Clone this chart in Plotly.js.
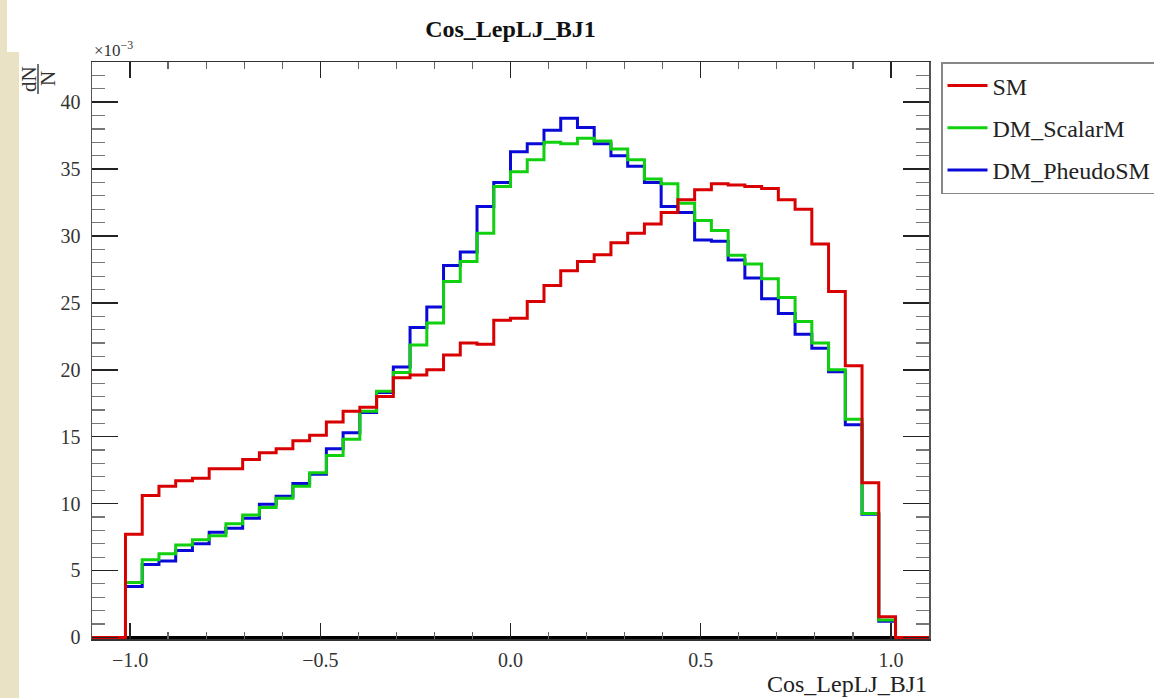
<!DOCTYPE html>
<html>
<head>
<meta charset="utf-8">
<script src="https://cdn.plot.ly/plotly-3.0.1.min.js"></script>
<style>
  html, body { margin: 0; padding: 0; background: #ffffff; }
  #wrap { position: relative; width: 1154px; height: 698px; overflow: hidden; }
  .beige { position: absolute; background: #e9e2c4; }
  #chart { position: absolute; left: 0; top: 0; width: 1154px; height: 698px; }
</style>
</head>
<body>
<div id="wrap">
  <div class="beige" style="left:0;top:0;width:7px;height:52px;"></div>
  <div class="beige" style="left:0;top:52px;width:19px;height:646px;"></div>
  <div id="chart"></div>
</div>
<script>
// Histogram binning (Cos_LepLJ_BJ1), values in units of 1e-3
const histRange = [-1.1, 1.1];
const nBins = 50;

const seriesNames = ["SM", "DM_ScalarM", "DM_PheudoSM"];

const smValues = [0, 0,
  7.7, 10.6, 11.3, 11.7, 11.9, 12.6, 12.6, 13.3, 13.8, 14.1,
  14.7, 15.1, 16.1, 16.9, 17.2, 18.0, 19.4, 19.6, 20.0, 21.1,
  22.0, 21.9, 23.7, 23.85, 25.1, 26.3, 27.4, 28.1, 28.6, 29.5,
  30.2, 30.9, 31.75, 32.7, 33.45, 33.9, 33.8, 33.7, 33.55, 32.7,
  32.0, 29.4, 25.85, 20.3, 11.55, 1.55,
  0, 0];

const scalarValues = [0, 0,
  4.1, 5.8, 6.25, 6.9, 7.3, 7.6, 8.5, 9.15, 9.7, 10.4,
  11.3, 12.3, 13.6, 14.8, 16.9, 18.4, 19.8, 21.85, 23.5, 26.6,
  28.1, 30.2, 33.7, 34.8, 35.7, 37.0, 36.9, 37.3, 37.1, 36.5,
  35.7, 34.25, 33.9, 32.45, 31.15, 30.4, 28.55, 27.9, 26.8, 25.4,
  23.6, 22.0, 20.0, 16.3, 9.25, 1.3,
  0, 0];

const pseudoValues = [0, 0,
  3.8, 5.45, 5.7, 6.5, 7.0, 7.85, 8.15, 8.9, 9.95, 10.55,
  11.5, 12.2, 14.1, 15.3, 16.8, 18.3, 20.2, 23.15, 24.7, 27.8,
  28.8, 32.2, 34.0, 36.3, 36.9, 37.9, 38.8, 38.1, 36.9, 36.0,
  35.2, 34.0, 32.2, 31.75, 29.7, 29.6, 28.2, 26.85, 25.3, 24.2,
  22.65, 21.6, 19.85, 15.9, 9.2, 1.2,
  0, 0];

const xTickVals = [-1.0, -0.5, 0.0, 0.5, 1.0];
const yTickVals = [0, 5, 10, 15, 20, 25, 30, 35, 40];

// ---- build step traces from bins ----
const binWidth = (histRange[1] - histRange[0]) / nBins;
const edges = [];
for (let i = 0; i <= nBins; i++) edges.push(histRange[0] + i * binWidth);

function stepTrace(vals, name, color, group, rank) {
  const y = vals.slice();
  y.push(vals[vals.length - 1]);
  return {
    type: "scatter", mode: "lines", x: edges, y: y, name: name,
    legendgroup: group, legendrank: rank,
    line: { shape: "hv", color: color, width: 3 },
    hoverinfo: "skip"
  };
}

const serif = "Liberation Serif, Times New Roman, serif";
const traces = [
  stepTrace(pseudoValues, seriesNames[2], "#0a0ad8", "c", 3),
  stepTrace(scalarValues, seriesNames[1], "#10d010", "b", 2),
  stepTrace(smValues, seriesNames[0], "#d80000", "a", 1)
];

const layout = {
  width: 1154, height: 698,
  margin: { l: 92, r: 225, t: 62, b: 59, pad: 0, autoexpand: false },
  paper_bgcolor: "rgba(0,0,0,0)",
  plot_bgcolor: "#ffffff",
  showlegend: true,
  title: {
    text: "<b>Cos_LepLJ_BJ1</b>",
    font: { family: serif, size: 24, color: "#111" },
    x: 0.5, xref: "paper", y: 1 - 29 / 698, yref: "container",
    xanchor: "center", yanchor: "middle"
  },
  xaxis: {
    range: [-1.1, 1.1],
    tickvals: xTickVals,
    tickformat: ".1f",
    ticks: "inside", ticklen: 16, tickwidth: 1.5, tickcolor: "#222",
    mirror: "ticks", showline: true, linecolor: "#333", linewidth: 1.5,
    showgrid: false, zeroline: false,
    minor: { dtick: 0.1, tick0: 0, ticks: "inside", ticklen: 7, tickcolor: "#666", tickwidth: 1.2, showgrid: false },
    tickfont: { family: serif, size: 20, color: "#333" },
    ticklabelstandoff: 2
  },
  yaxis: {
    range: [-0.12, 43.0],
    tickvals: yTickVals,
    ticks: "inside", ticklen: 26, tickwidth: 1.5, tickcolor: "#222",
    mirror: "ticks", showline: true, linecolor: "#555", linewidth: 1.5,
    showgrid: false, zeroline: false,
    minor: { dtick: 1, tick0: 0, ticks: "inside", ticklen: 13, tickcolor: "#777", tickwidth: 1.2, showgrid: false },
    tickfont: { family: serif, size: 20, color: "#333" },
    ticklabelstandoff: 6
  },
  legend: {
    x: (941 - 92) / 837, xref: "paper", xanchor: "left",
    y: 1, yref: "paper", yanchor: "top",
    bgcolor: "#ffffff", bordercolor: "#888", borderwidth: 1.5,
    font: { family: serif, size: 24, color: "#222" },
    traceorder: "grouped", tracegroupgap: 8,
    itemwidth: 40
  },
  shapes: [
    { type: "line", xref: "paper", yref: "y", x0: 0, x1: 1, y0: 0, y1: 0,
      line: { color: "#000", width: 3 }, layer: "below" },
    { type: "line", xref: "paper", yref: "paper",
      x0: -54 / 837, x1: -54 / 837, y0: 1 - 2 / 578, y1: 1 - 32 / 578,
      line: { color: "#444", width: 1.5 } }
  ],
  annotations: [
    { text: "×10<sup>−3</sup>", xref: "paper", yref: "paper", x: 0, y: 1,
      xanchor: "left", yanchor: "bottom", showarrow: false,
      font: { family: serif, size: 17, color: "#333" } },
    { text: "dN", xref: "paper", yref: "paper", x: -63 / 837, y: 1 - 17 / 578,
      xanchor: "center", yanchor: "middle", textangle: -90, showarrow: false,
      font: { family: serif, size: 21, color: "#333" } },
    { text: "N", xref: "paper", yref: "paper", x: -44 / 837, y: 1 - 17 / 578,
      xanchor: "center", yanchor: "middle", textangle: -90, showarrow: false,
      font: { family: serif, size: 21, color: "#333" } },
    { text: "Cos_LepLJ_BJ1", xref: "paper", yref: "paper", x: 1.0, y: -45 / 578,
      xanchor: "right", yanchor: "middle", showarrow: false,
      font: { family: serif, size: 24, color: "#222" } }
  ]
};

Plotly.newPlot("chart", traces, layout, { staticPlot: true, displayModeBar: false });
</script>
</body>
</html>
